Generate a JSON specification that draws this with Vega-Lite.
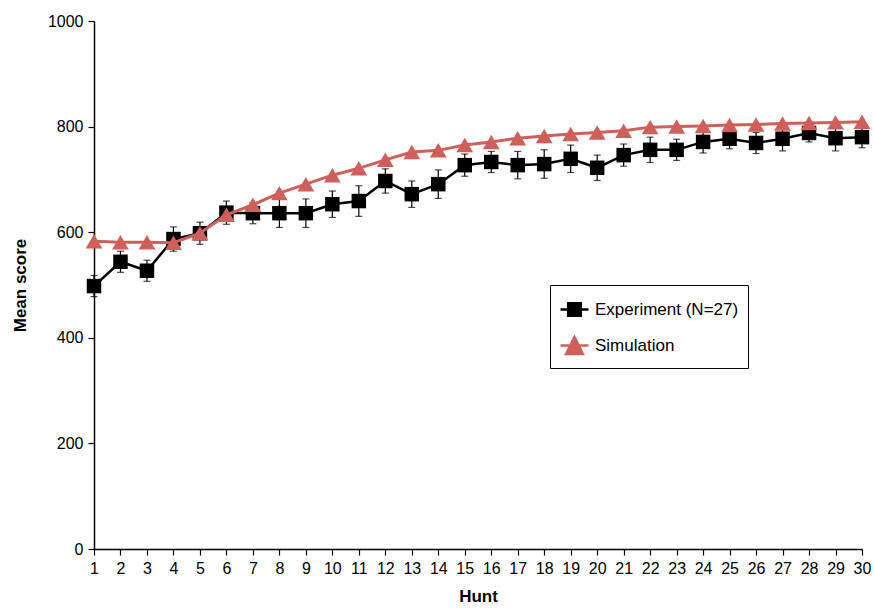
{
  "$schema": "https://vega.github.io/schema/vega-lite/v6.json",
  "width": 768,
  "height": 528,
  "autosize": {"type": "none"},
  "padding": {"left": 94, "top": 21, "right": 12, "bottom": 60},
  "background": "white",
  "config": {
    "font": "Liberation Sans",
    "view": {"stroke": null},
    "axis": {"grid": false, "domainColor": "black", "domainWidth": 1.5, "tickColor": "black", "tickWidth": 1.2, "tickSize": 6, "labelColor": "black", "titleColor": "black", "labelFontSize": 16, "titleFontSize": 17, "titleFontWeight": "bold", "labelFont": "Liberation Sans", "titleFont": "Liberation Sans"}
  },
  "data": {
    "values": [
      {"hunt": 1, "series": "Experiment (N=27)", "score": 498, "err": 20},
      {"hunt": 2, "series": "Experiment (N=27)", "score": 544, "err": 20},
      {"hunt": 3, "series": "Experiment (N=27)", "score": 527, "err": 20},
      {"hunt": 4, "series": "Experiment (N=27)", "score": 587, "err": 23},
      {"hunt": 5, "series": "Experiment (N=27)", "score": 598, "err": 21},
      {"hunt": 6, "series": "Experiment (N=27)", "score": 637, "err": 22},
      {"hunt": 7, "series": "Experiment (N=27)", "score": 636, "err": 20},
      {"hunt": 8, "series": "Experiment (N=27)", "score": 636, "err": 27},
      {"hunt": 9, "series": "Experiment (N=27)", "score": 636, "err": 27},
      {"hunt": 10, "series": "Experiment (N=27)", "score": 653, "err": 25},
      {"hunt": 11, "series": "Experiment (N=27)", "score": 659, "err": 29},
      {"hunt": 12, "series": "Experiment (N=27)", "score": 697, "err": 23},
      {"hunt": 13, "series": "Experiment (N=27)", "score": 672, "err": 25},
      {"hunt": 14, "series": "Experiment (N=27)", "score": 691, "err": 27},
      {"hunt": 15, "series": "Experiment (N=27)", "score": 727, "err": 21},
      {"hunt": 16, "series": "Experiment (N=27)", "score": 733, "err": 20},
      {"hunt": 17, "series": "Experiment (N=27)", "score": 727, "err": 26},
      {"hunt": 18, "series": "Experiment (N=27)", "score": 729, "err": 27},
      {"hunt": 19, "series": "Experiment (N=27)", "score": 739, "err": 26},
      {"hunt": 20, "series": "Experiment (N=27)", "score": 722, "err": 24},
      {"hunt": 21, "series": "Experiment (N=27)", "score": 746, "err": 21},
      {"hunt": 22, "series": "Experiment (N=27)", "score": 756, "err": 24},
      {"hunt": 23, "series": "Experiment (N=27)", "score": 756, "err": 20},
      {"hunt": 24, "series": "Experiment (N=27)", "score": 771, "err": 21},
      {"hunt": 25, "series": "Experiment (N=27)", "score": 777, "err": 19},
      {"hunt": 26, "series": "Experiment (N=27)", "score": 769, "err": 20},
      {"hunt": 27, "series": "Experiment (N=27)", "score": 777, "err": 23},
      {"hunt": 28, "series": "Experiment (N=27)", "score": 788, "err": 17},
      {"hunt": 29, "series": "Experiment (N=27)", "score": 778, "err": 24},
      {"hunt": 30, "series": "Experiment (N=27)", "score": 780, "err": 20},
      {"hunt": 1, "series": "Simulation", "score": 583},
      {"hunt": 2, "series": "Simulation", "score": 581},
      {"hunt": 3, "series": "Simulation", "score": 581},
      {"hunt": 4, "series": "Simulation", "score": 580},
      {"hunt": 5, "series": "Simulation", "score": 598},
      {"hunt": 6, "series": "Simulation", "score": 633},
      {"hunt": 7, "series": "Simulation", "score": 652},
      {"hunt": 8, "series": "Simulation", "score": 674},
      {"hunt": 9, "series": "Simulation", "score": 691},
      {"hunt": 10, "series": "Simulation", "score": 708},
      {"hunt": 11, "series": "Simulation", "score": 721},
      {"hunt": 12, "series": "Simulation", "score": 737},
      {"hunt": 13, "series": "Simulation", "score": 752},
      {"hunt": 14, "series": "Simulation", "score": 755},
      {"hunt": 15, "series": "Simulation", "score": 765},
      {"hunt": 16, "series": "Simulation", "score": 771},
      {"hunt": 17, "series": "Simulation", "score": 778},
      {"hunt": 18, "series": "Simulation", "score": 782},
      {"hunt": 19, "series": "Simulation", "score": 786},
      {"hunt": 20, "series": "Simulation", "score": 789},
      {"hunt": 21, "series": "Simulation", "score": 792},
      {"hunt": 22, "series": "Simulation", "score": 799},
      {"hunt": 23, "series": "Simulation", "score": 800},
      {"hunt": 24, "series": "Simulation", "score": 801},
      {"hunt": 25, "series": "Simulation", "score": 803},
      {"hunt": 26, "series": "Simulation", "score": 804},
      {"hunt": 27, "series": "Simulation", "score": 806},
      {"hunt": 28, "series": "Simulation", "score": 807},
      {"hunt": 29, "series": "Simulation", "score": 808},
      {"hunt": 30, "series": "Simulation", "score": 809}
    ]
  },
  "encoding": {
    "x": {
      "field": "hunt", "type": "quantitative",
      "scale": {"domain": [1, 30], "nice": false, "zero": false},
      "axis": {"title": "Hunt", "values": [1,2,3,4,5,6,7,8,9,10,11,12,13,14,15,16,17,18,19,20,21,22,23,24,25,26,27,28,29,30], "labelPadding": 5, "titlePadding": 12, "labelFlush": false, "labelOverlap": false}
    },
    "y": {
      "field": "score", "type": "quantitative",
      "scale": {"domain": [0, 1000], "nice": false},
      "axis": {"title": "Mean score", "values": [0, 200, 400, 600, 800, 1000], "format": "d", "labelPadding": 5, "titlePadding": 18, "labelFlush": false}
    }
  },
  "layer": [
    {
      "transform": [{"filter": "datum.series === 'Experiment (N=27)'"}],
      "mark": {"type": "errorbar", "color": "black", "ticks": {"size": 7, "color": "black", "thickness": 1.2}, "rule": {"strokeWidth": 1.2, "color": "black"}},
      "encoding": {
        "y": {"field": "score", "type": "quantitative"},
        "yError": {"field": "err"}
      }
    },
    {
      "transform": [{"filter": "datum.series === 'Experiment (N=27)'"}],
      "mark": {"type": "line", "color": "black", "strokeWidth": 2.5},
      "encoding": {}
    },
    {
      "transform": [{"filter": "datum.series === 'Experiment (N=27)'"}],
      "mark": {"type": "point", "shape": "square", "filled": true, "opacity": 1, "color": "black", "size": 210},
      "encoding": {}
    },
    {
      "transform": [{"filter": "datum.series === 'Simulation'"}],
      "mark": {"type": "line", "color": "#cf5f5a", "strokeWidth": 3},
      "encoding": {}
    },
    {
      "transform": [{"filter": "datum.series === 'Simulation'"}],
      "mark": {"type": "point", "shape": "triangle-up", "filled": true, "opacity": 1, "color": "#cf5f5a", "size": 280},
      "encoding": {}
    },
    {
      "mark": {"type": "point", "filled": true, "opacity": 0, "size": 784},
      "encoding": {
        "color": {
          "field": "series", "type": "nominal",
          "scale": {"domain": ["Experiment (N=27)", "Simulation"], "range": ["black", "#cf5f5a"]},
          "legend": {
            "title": null,
            "orient": "none",
            "legendX": 456,
            "legendY": 264,
            "padding": 9,
            "strokeColor": "black",
            "fillColor": "white",
            "labelFontSize": 17,
            "labelColor": "black",
            "labelOffset": 5,
            "rowPadding": 9,
            "symbolSize": 784,
            "symbolStrokeWidth": 2.5,
            "symbolOpacity": 1
          }
        },
        "stroke": {
          "field": "series", "type": "nominal",
          "scale": {"domain": ["Experiment (N=27)", "Simulation"], "range": ["black", "#cf5f5a"]},
          "legend": null
        },
        "shape": {
          "field": "series", "type": "nominal",
          "scale": {"domain": ["Experiment (N=27)", "Simulation"], "range": ["M-1,0H1M-0.45,-0.45H0.45V0.45H-0.45Z", "M-1,0H1M0,-0.6L0.6,0.6H-0.6Z"]},
          "legend": null
        }
      }
    }
  ]
}
